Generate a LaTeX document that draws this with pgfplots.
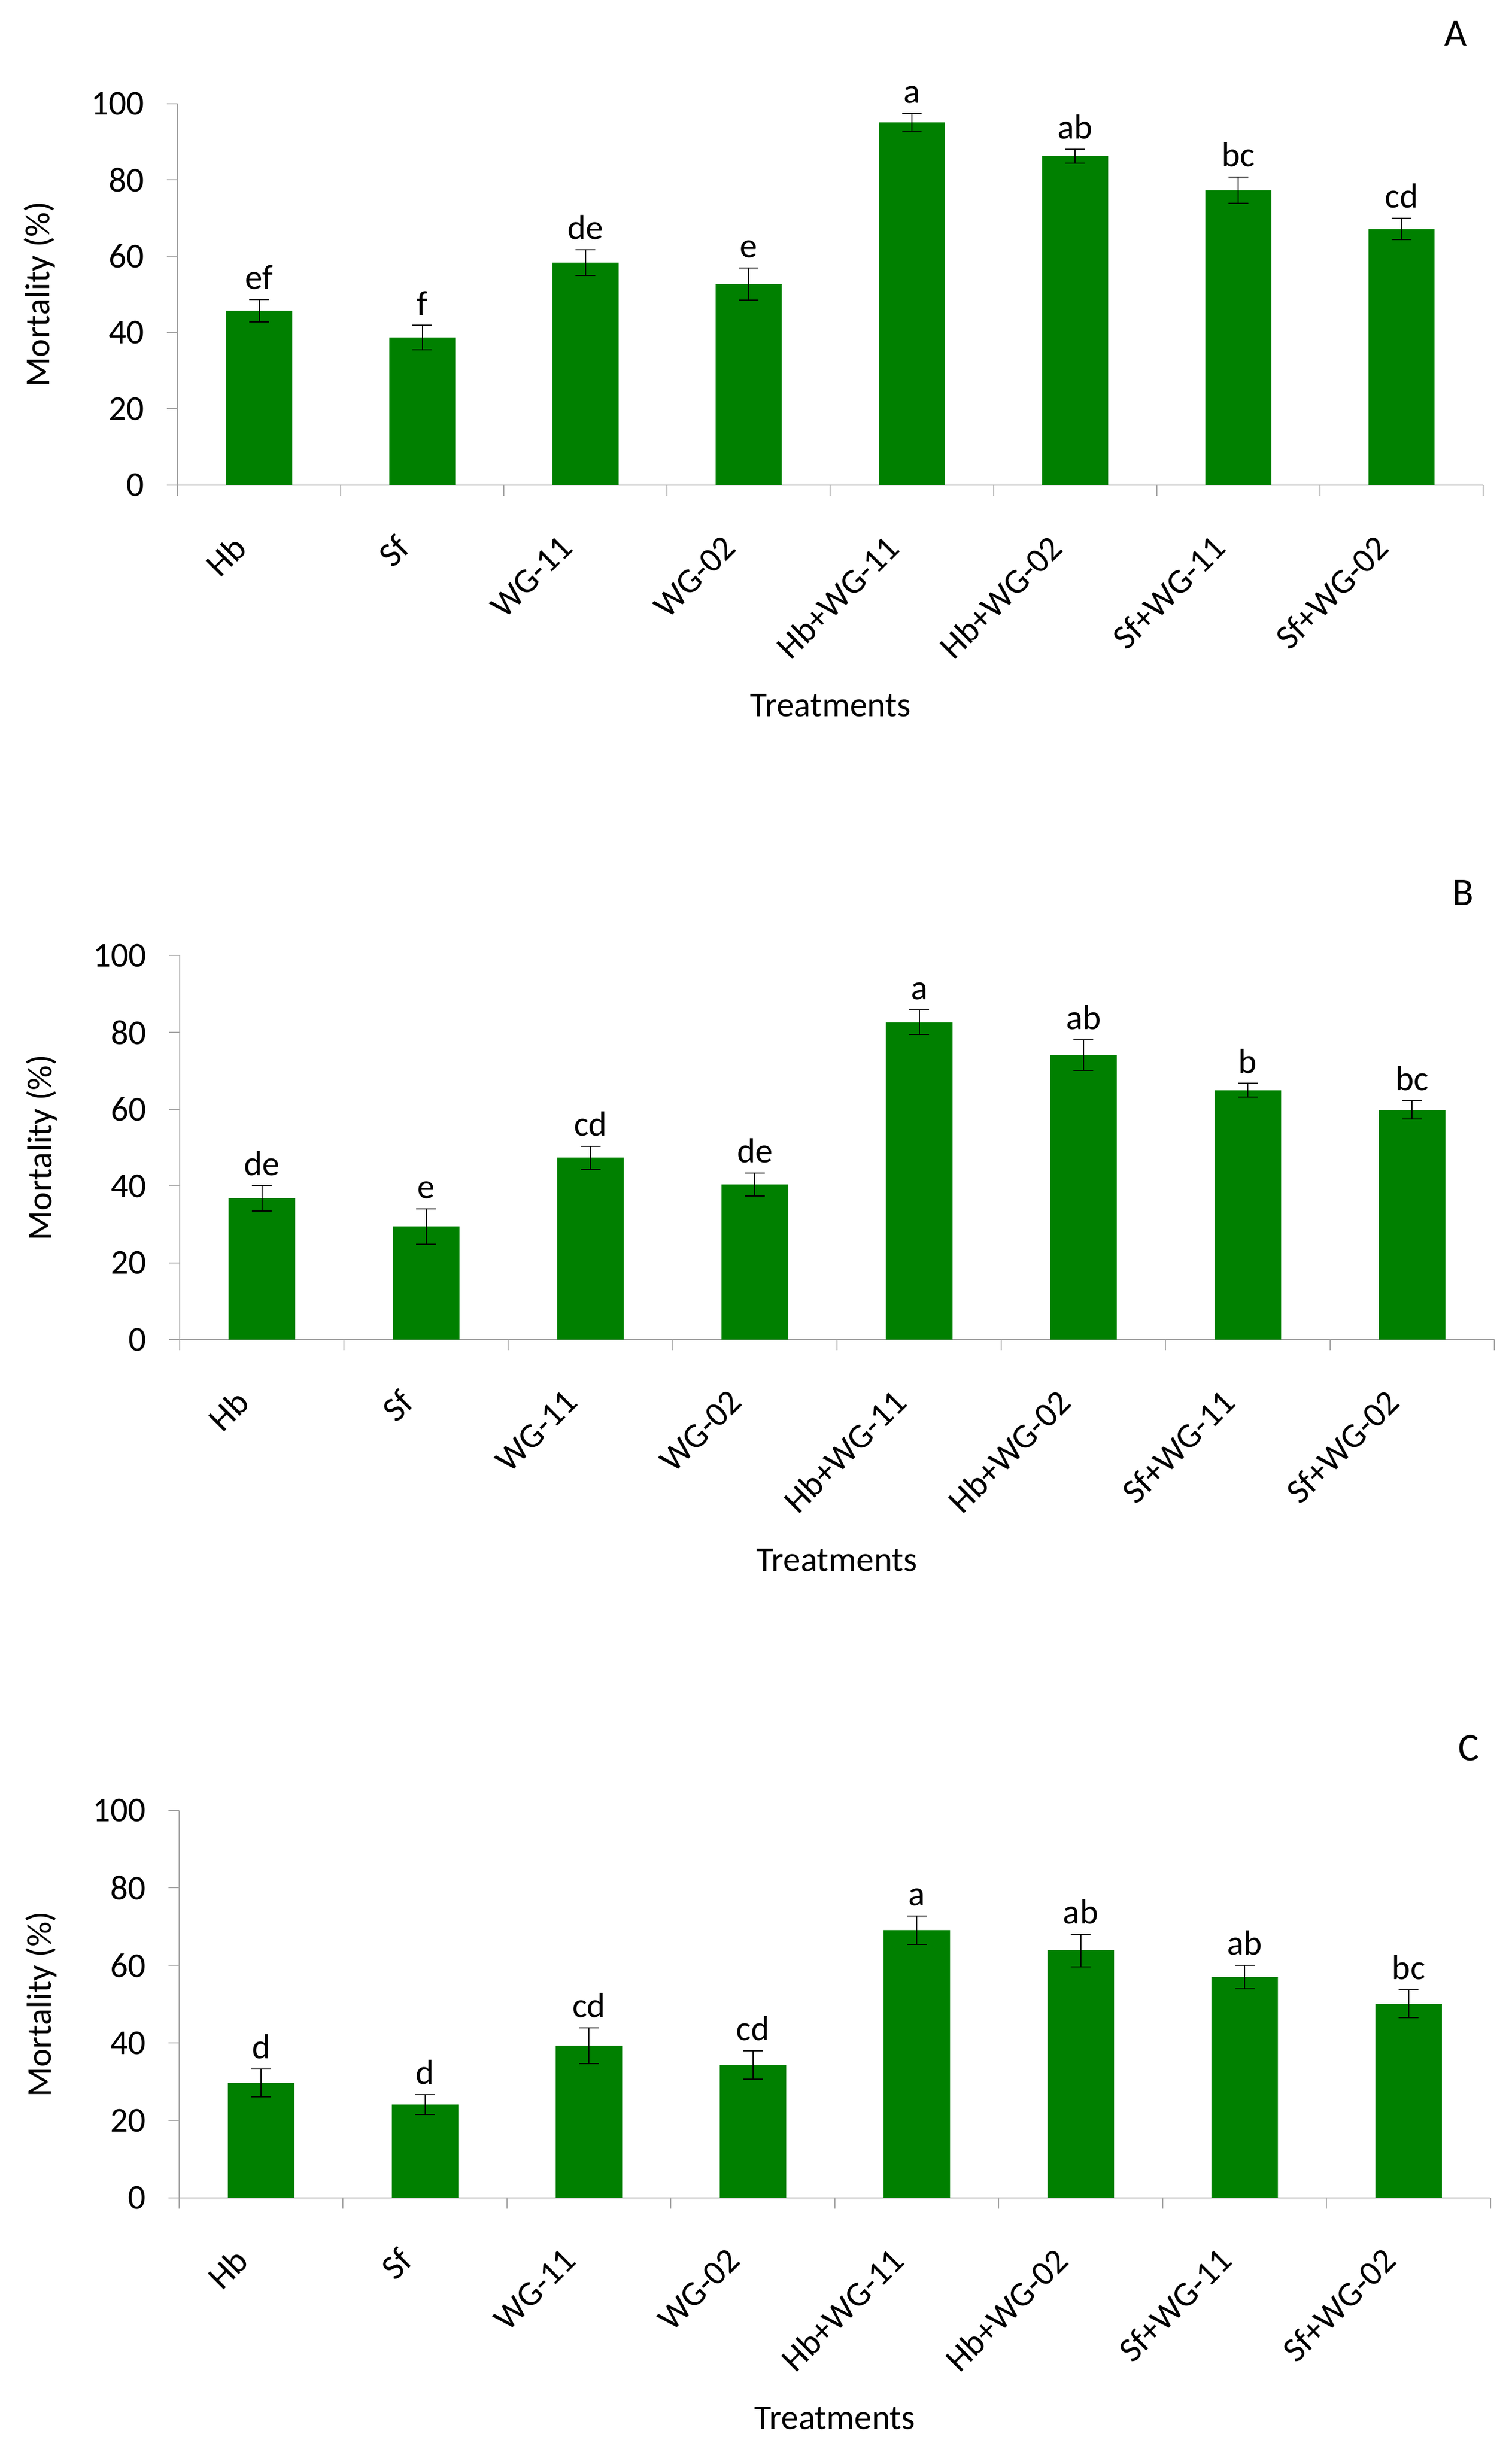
\documentclass[border=0pt]{standalone}
\usepackage{pgfplots}
\pgfplotsset{compat=1.18}
\usepackage{pgfplotstable}
\usepackage{fontspec}
\setmainfont{Carlito}
\definecolor{barg}{RGB}{0,128,0}
\definecolor{axg}{RGB}{166,166,166}
\newcommand\lbl{\fontsize{16.3}{19.5}\selectfont}

\pgfplotstableread{
x y e lab
0 45.7 2.9 ef
1 38.7 3.2 f
2 58.3 3.4 de
3 52.7 4.2 e
4 95.1 2.3 a
5 86.2 1.8 ab
6 77.3 3.4 bc
7 67.1 2.8 cd
}\dataA
\pgfplotstableread{
x y e lab
0 36.8 3.3 de
1 29.5 4.6 e
2 47.4 3.0 cd
3 40.4 3.0 de
4 82.6 3.2 a
5 74.1 4.0 ab
6 64.9 1.8 b
7 59.8 2.4 bc
}\dataB
\pgfplotstableread{
x y e lab
0 29.7 3.6 d
1 24.1 2.5 d
2 39.3 4.6 cd
3 34.3 3.7 cd
4 69.1 3.7 a
5 63.9 4.2 ab
6 57.0 3.0 ab
7 50.1 3.6 bc
}\dataC

\pgfplotsset{
 panel/.style={
  scale only axis, clip=false,
  xmin=-0.5, xmax=7.5, ymin=0, ymax=100,
  axis x line*=bottom, axis y line*=left,
  axis line style={-, draw=axg, line width=0.5pt},
  tick align=outside,
  xtick={0,...,7},
  xticklabels={Hb,Sf,WG-11,WG-02,Hb+WG-11,Hb+WG-02,Sf+WG-11,Sf+WG-02},
  minor xtick={-0.5,0.5,...,7.5},
  major x tick style={draw=none},
  minor x tick style={draw=axg, line width=0.5pt},
  ytick={0,20,...,100},
  ytick style={draw=axg, line width=0.5pt},
  major tick length=5pt, minor tick length=5pt,
  tick label style={font=\lbl},
  /pgf/number format/assume math mode=true,
  yticklabel style={xshift=-7pt},
  xticklabel style={xshift=-6.5pt, yshift=-19pt, rotate=45, anchor=east},
  every axis x label/.style={at={(axis description cs:0.5,0)}, yshift=-103pt, anchor=center, font=\lbl},
  every axis y label/.style={at={(axis description cs:0,0.5)}, xshift=-64.4pt, rotate=90, anchor=center, font=\lbl},
  xlabel={Treatments},
  ylabel={Mortality (\%)},
 },
 bars/.style={ybar, bar width=0.405, fill=barg, draw=none,
  error bars/.cd, y dir=both, y explicit,
  error bar style={black, line width=0.5pt},
  error mark options={rotate=90, mark size=4.6pt, black, line width=0.5pt}},
 labs/.style={draw=none, mark=none, nodes near coords, point meta=explicit symbolic,
  nodes near coords style={font=\lbl, anchor=south, black, yshift=1.2pt}},
}

\begin{document}
\begin{tikzpicture}
\path[use as bounding box] (0,0) rectangle (706.75pt,1146pt);

\begin{axis}[panel, at={(83pt,919.25pt)}, anchor=south west, width=610.25pt, height=178.35pt]
\addplot[bars] table[x=x, y=y, y error=e]{\dataA};
\addplot[labs] table[x=x, y expr=\thisrow{y}+\thisrow{e}, meta=lab]{\dataA};
\end{axis}
\node[font=\fontsize{18.3}{22}\selectfont] at (680.5pt,1130.25pt) {A};

\begin{axis}[panel, at={(84pt,519.9pt)}, anchor=south west, width=614.5pt, height=179.5pt]
\addplot[bars] table[x=x, y=y, y error=e]{\dataB};
\addplot[labs] table[x=x, y expr=\thisrow{y}+\thisrow{e}, meta=lab]{\dataB};
\end{axis}
\node[font=\fontsize{18.3}{22}\selectfont] at (683.75pt,728.75pt) {B};

\begin{axis}[panel, at={(83.75pt,118.75pt)}, anchor=south west, width=613pt, height=181.1pt]
\addplot[bars] table[x=x, y=y, y error=e]{\dataC};
\addplot[labs] table[x=x, y expr=\thisrow{y}+\thisrow{e}, meta=lab]{\dataC};
\end{axis}
\node[font=\fontsize{18.3}{22}\selectfont] at (686.5pt,329pt) {C};
\end{tikzpicture}
\end{document}
